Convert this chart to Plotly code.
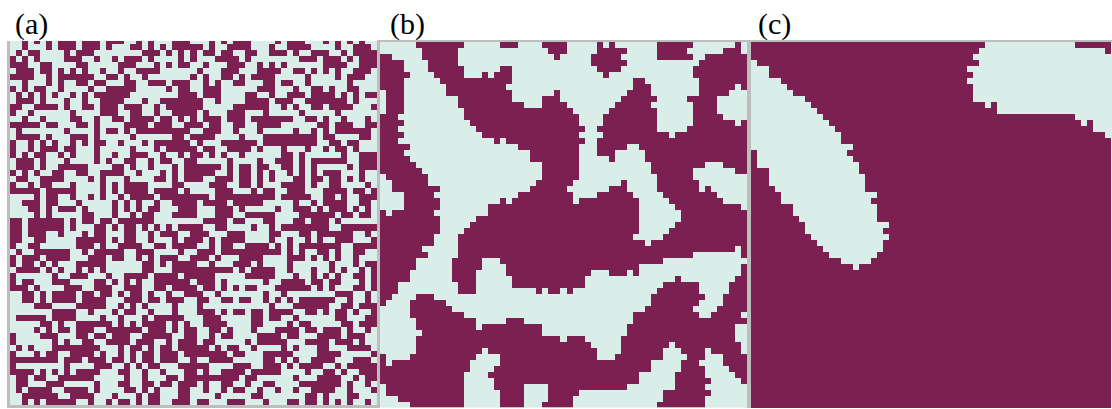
import plotly.graph_objects as go

W, H = 1112, 409
DARK = "#7C1F51"
LIGHT = "#DAEEE9"
GRAY = "#BDBDBD"
labels = ["(a)", "(b)", "(c)"]

# Panel (a): dark cells per row, left half, column numbers
a_left = [
"2 4 6 8-10 12-14 16-18 21 23 27-29",
"2 6 8-10 12-14 16 20-21 23 25 27-29",
"1 3-4 9 11-13 22-24 26 28 30",
"0 2 4 9-11 14 17 19-21 23 28 30",
"0-2 5-6 11-12 18-20 24 26 28-29",
"1-3 5-6 8 10 12 15 18 21-24",
"0-3 6 8-13 16-17 19 22 30",
"2 6 8 11-12 14-15 19-20 23-25 27-29",
"0 2 4-5 8 13 16-20 26 28-29",
"1 3 5 7 10 12 14-19 28-30",
"1-3 5 9 12 15-18 22 25-30",
"0-1 4-7 9 12-13 15-17 19-21 24 26-29",
"0 3 10 15-17 20-21 24 27-29",
"2 5 10-11 14 17-18 20-23 25-26 28 30",
"0-4 6-7 11-12 14 19-22 24-26 29-30",
"1 9 14 16-17 19 21-29",
"1-4 6 10-12 14 20 27-28",
"0 3 5 7 10 12 14-15 18 22 24-29",
"0 3 5-7 9-10 14 20 24 26-29",
"0 2 4-5 8 10 14 17 20-22 25 28 30",
"1-3 5 9 14 16 19-20 23 25-26 29-30",
"1-3 5 8-12 17-18 20 23 27 29-30",
"0 2 4 7-8 11-12 15-18 21 25 27 29-30",
"1-2 5-8 13 15 19 24-25 27 29",
"0 3 5-6 10 15 17 19-22 27-28",
"0-4 6-10 15 17 19-22 24-27 29",
"4 6-7 10 13 15 18 20-23 25-29",
"2-4 6-7 11 17 19 21 24 27-29",
"3-4 6 8-10 12 17 19 21 23-24 28-30",
"4 6 12-13 17 20 22-23 27-30",
"0-1 3-8 10 12-13 15-16 18-23",
"0-1 3-8 10 14-15 17 19-20 22 24 26 28-30",
"0-1 3-5 8 12 14-15 19-20 23 25-27 30",
"0-1 4-5 11-15 17 19-20 23 27 29-30",
"0 3-4 11-13 15 18-21 24-25 27-30",
"1 4-9 12 14-18 21-23 28",
"0 2-4 6-9 13-15 17-18 21 23 25-27 30",
"0 2-3 5 7 11-15 22-23 25 27-30",
"1-4 6 8 11 13 15 22-23 27-30",
"0 7 10-12 16 19-22 24-27 29-30",
"0 2-3 7-9 14-15 17 19 21 24-29",
"0-2 4 9-11 14-16 19-21 24-25 27-29",
"2-3 5 7-10 12-13 15-16 18 20-21 23 26 29-30",
"2-3 5 7-10 12-15 19-21 23-24 26-28",
"4-6 11-15 18 20 22 27",
"7-10 13 17 19-20 23 27",
"1-5 7-10 15 18 22 24-28",
"5-6 8 11-16 18 20 22-25 27 29",
"4 6 8-9 11-13 16-21 23-25 27 29-30",
"0 5-7 11-12 14-15 17-19 22-26 29-30",
"0 7 9 12-13 16-19 21-23 26 28-30",
"1 3 7-14 18 20-21 23 25-26 28-30",
"0 4 6-7 10-13 15 18 20 22-23 25-27 29-30",
"0-7 9-11 13-15 17-18 20 22-23 25-27 30",
"0 9 14-16 19 21 23-24 28-30",
"0-3 5 7 9 11-14 18-19 22 25 29-30",
"1-2 4-5 8-13 19 22 26-27 29",
"1-2 6-8 14 18-19 22-23 25-26 28-29",
"1 3-6 9-12 14 19-20 22 24 28-29",
"2 3-7 10-13 17 21 23-24 28-29",
"2 4 6-10 13 16 18-19 21 23-24 27-29",
]
# Panel (a): right half, column numbers counted from column 30
a_right = [
"3 5 7-9 14 16-18 22 24 26 28",
"0-1 3 6-9 13 16-19 24 27-29",
"0 2-3 5-6 9-10 13-15 17 20-22 25 27-30",
"0 4-7 9 18-20 22-24 26 28-30",
"2 6-8 11 13 15 22-25 28-30",
"1 5-7 11-14 17-18 20 22 24 27-29",
"0 2 5-6 8 10-13 19 24 26-28",
"2 4 7-8 12-13 15-16 19 26",
"2-4 11-13 17 20-21 23 26-27",
"0 2-4 9-10 13 16-18 20-23 25 27 29-30",
"1 4 9-12 14-16 19-25 27",
"0-1 7-12 15 17 20-21 23-26 30",
"0 2 6-8 12 18 24",
"0 2-4 6-8 10-16 19-20 22 25 29",
"1 3-4 7-8 11-14 21-22 24-26 29-30",
"2-4 7 11 17 20 22 24-29",
"0-3 8 12-20 22-23 28-29",
"1 5-10 12-20 23-24 26-27",
"0 2-3 6-9 11 15 19 22 24-25 27",
"0-1 3 5 8 15-16 18 25 28-30",
"6 11 14-16 18 20-25 28-30",
"0-4 6 8-9 11-12 15-16 18 20 26 28-30",
"0-3 6 8-9 11 13 16 18 20 22-24 28",
"0-1 4-6 8-9 11 13 17-18 20-21 23-24 26 28",
"3-5 8-9 11 15-18 20 23-24 29",
"4-6 10 12-13 16-18 22-25 27-28 30",
"0-2 4-11 12-13 15-19 22-23 25 28-30",
"0 2-5 7-11 17 20 22-25 28-29",
"0 4-6 8 14 17-19 21 23-25 27 29",
"4-6 9-13 18-23 25-26 28-29",
"2-5 7-8 12-13 17-18 20-22 24",
"0-1 4-5 10 13 15-22 25-30",
"1-2 6-8 13-14 18-19 21-26 29",
"1 3 5 6-8 13 16 19 21 24-26 30",
"0 3 5-6 9-12 14 16 18-24 27-30",
"1-3 5-14 16 18 21-22 24 27-28",
"0-2 4 8-11 16-18 20 22 24 27",
"3 7-9 11 16 23 27 29-30",
"1-6 8 10-13 16 20 23 25 28 30",
"1-3 9-13 17 20 22 24 27-28 30",
"1-3 5 12 15-18 20-21 23-24 28 30",
"0 2-3 5 7 9-10 14-19 21 23 27-28 30",
"0-1 4 12 15 24-26 29",
"1-2 5-6 8-9 12 14 16 18-23 26 29",
"1 13 17-22 25-26 28-30",
"1-3 5 7-8 10-11 13-16 19-20 22 24-25 27 30",
"2-4 10-11 13-14 17 24-25 29-30",
"2-5 10-11 16 18-19 25-26 28-30",
"3-4 6 10 14-17 19-20 22-24 26 29",
"3 5-6 11-14 16-17 21-24 26-28",
"2-3 9 11-15 19-22 24-26 28",
"0-2 4 6-7 10 15 17 21-22 26-29",
"0-5 7-8 12-16 21-24 30",
"0 3-6 12-13 15 17 20-23 27-29",
"0-2 7-9 12-14 16 18-21 24 26-30",
"2 5-8 10-14 19 22-23 25 28-30",
"0-7 9-10 17 21-24 27 29-30",
"0 2 5-6 9 12-13 18-24 26 29",
"2 5 7-8 11 14 17 20-23 26 30",
"4 10-11 19-20 22 26-27",
"1-2 6-8 12 16-17 19-20 22 24 26 29",
]
# Panel (b): dark runs [start, stop) per row
b_rows = [
[(6,14),(20,23),(27,31),(36,37),(38,39),(46,52),(59,60)],
[(7,13),(28,31),(36,41),(46,51),(57,60)],
[(0,2),(7,13),(29,30),(35,40),(46,52),(54,61)],
[(0,4),(8,13),(35,41),(53,61)],
[(0,4),(8,14),(20,22),(36,40),(52,61)],
[(0,5),(9,14),(17,18),(19,22),(37,38),(52,61)],
[(0,4),(10,22),(42,44),(53,61)],
[(0,4),(11,21),(42,45),(53,59),(60,61)],
[(1,4),(11,22),(29,30),(41,45),(53,58)],
[(1,4),(13,22),(27,30),(40,46),(51,56)],
[(1,4),(13,24),(27,31),(39,45),(52,56)],
[(1,4),(14,32),(38,46),(52,56)],
[(0,3),(14,33),(37,46),(52,57)],
[(0,4),(15,33),(37,46),(52,59),(60,61)],
[(0,3),(16,34),(36,46),(51,61)],
[(0,4),(17,33),(37,48),(49,61)],
[(0,3),(19,20),(21,34),(36,61)],
[(0,5),(23,33),(36,41),(43,61)],
[(0,4),(25,33),(36,39),(44,61)],
[(0,5),(25,33),(38,39),(44,61)],
[(0,6),(27,33),(45,54),(57,61)],
[(0,7),(27,33),(45,52),(59,61)],
[(1,8),(27,33),(46,52)],
[(2,8),(26,32),(40,41),(46,53)],
[(2,10),(25,31),(38,41),(46,53),(54,55)],
[(4,9),(23,32),(36,42),(47,56)],
[(4,10),(20,21),(22,32),(33,43),(48,57)],
[(4,10),(18,43),(49,60)],
[(0,1),(2,9),(18,43),(50,61)],
[(0,10),(16,43),(50,61)],
[(0,10),(15,43),(49,61)],
[(0,10),(14,43),(48,61)],
[(0,9),(13,42),(47,61)],
[(0,9),(13,44),(45,61)],
[(0,7),(13,59),(60,61)],
[(0,8),(13,52),(60,61)],
[(0,6),(12,17),(20,47)],
[(0,6),(12,17),(21,43),(60,61)],
[(0,5),(12,16),(21,35),(38,41),(42,43),(60,61)],
[(0,5),(12,16),(22,34),(49,50),(59,61)],
[(0,3),(13,16),(22,34),(47,53),(58,61)],
[(0,3),(13,16),(26,27),(28,30),(31,32),(46,53),(58,61)],
[(0,2),(6,9),(45,54),(57,61)],
[(0,1),(5,11),(45,53),(57,61)],
[(5,12),(44,52),(56,61)],
[(5,14),(42,53),(55,60)],
[(6,16),(21,24),(42,61)],
[(6,16),(17,27),(41,59)],
[(7,27),(41,59)],
[(6,30),(31,34),(40,59)],
[(6,35),(40,48),(49,60)],
[(6,17),(18,36),(40,47),(50,54),(55,60)],
[(0,1),(5,16),(20,36),(39,47),(51,54),(57,61)],
[(0,1),(2,15),(20,45),(50,53),(57,61)],
[(0,15),(19,45),(50,54),(58,61)],
[(0,14),(18,43),(49,54),(59,61)],
[(0,14),(19,43),(49,55),(60,61)],
[(1,14),(19,24),(28,41),(49,54)],
[(1,14),(20,24),(28,33),(47,55)],
[(3,14),(20,24),(28,32),(47,54)],
[(5,14),(20,24),(27,32),(46,54)],
]
# Panel (c): light runs [start, stop) per row
c_light = [
[(39,54)],[(38,59)],[(37,60)],[(0,1),(38,60)],[(0,3),(36,60)],[(0,3),(37,60)],
[(0,5),(36,60)],[(0,6),(37,60)],[(0,7),(37,60)],[(0,9),(37,60)],
[(0,10),(39,40),(41,60)],[(0,11),(41,60)],[(0,12),(54,60)],[(0,13),(55,56),(57,60)],
[(0,14),(57,60)],[(0,15),(59,60)],[(0,15)],[(0,17)],[(1,16)],[(1,17)],[(1,18)],
[(3,18)],[(3,19)],[(3,19)],[(4,19)],[(5,21)],[(5,20)],[(7,21)],[(7,21)],[(8,21)],
[(9,23)],[(9,22)],[(10,23)],[(11,22)],[(12,22)],[(13,21)],[(15,20)],[(17,18)],
[],[],[],[],[],[],[],[],[],[],[],[],[],[],[],[],[],[],[],[],[],[],[],
]


def parse(text, offset=0):
    out = []
    for tok in text.split():
        if "-" in tok:
            s, e = tok.split("-")
            out.extend(range(int(s) + offset, int(e) + 1 + offset))
        else:
            out.append(int(tok) + offset)
    return out


za = [[0] * 61 for _ in range(61)]
for r in range(61):
    for c in parse(a_left[r]) + parse(a_right[r], 30):
        if 0 <= c < 61:
            za[r][c] = 1
zb = [[0] * 61 for _ in range(61)]
for r, runs in enumerate(b_rows):
    for s, e in runs:
        for c in range(s, e):
            zb[r][c] = 1
zc = [[1] * 60 for _ in range(61)]
for r, runs in enumerate(c_light):
    for s, e in runs:
        for c in range(s, e):
            zc[r][c] = 0

scale = [[0, LIGHT], [1, DARK]]
fig = go.Figure()
for i, z in enumerate([za, zb, zc]):
    s = "" if i == 0 else str(i + 1)
    fig.add_trace(go.Heatmap(z=z, zmin=0, zmax=1, colorscale=scale, showscale=False,
                             hoverinfo="skip", xaxis="x" + s, yaxis="y" + s))


def dx(a, b):
    return [a / W, b / W]


def dy(top, bottom):
    return [1 - bottom / H, 1 - top / H]


base = dict(showgrid=False, zeroline=False, showticklabels=False, ticks="")
fig.update_layout(
    width=W, height=H, autosize=False,
    margin=dict(l=0, r=0, t=0, b=0),
    paper_bgcolor="white", plot_bgcolor=LIGHT, showlegend=False,
    xaxis=dict(base, domain=dx(10, 377), range=[-0.5, 60.5], anchor="y",
               showline=True, linecolor=GRAY, linewidth=3),
    yaxis=dict(base, domain=dy(41, 405), range=[60.5, 0.0], anchor="x",
               showline=True, linecolor=GRAY, linewidth=3),
    xaxis2=dict(base, domain=dx(380, 747), range=[-0.5, 60.5], anchor="y2",
                showline=True, linecolor=GRAY, linewidth=2, side="top"),
    yaxis2=dict(base, domain=dy(41.5, 407.5), range=[60.5, -0.5], anchor="x2",
                showline=True, linecolor=GRAY, linewidth=3, mirror=True),
    xaxis3=dict(base, domain=dx(751, 1112), range=[-0.5, 59.66], anchor="y3",
                showline=True, linecolor=GRAY, linewidth=2, side="top"),
    yaxis3=dict(base, domain=dy(42, 408), range=[60.5, -0.5], anchor="x3",
                showline=True, linecolor=GRAY, linewidth=3),
)
for text, x in zip(labels, [13, 388, 756]):
    fig.add_annotation(text=text, x=x / W, y=1 - 24.5 / H, xref="paper", yref="paper",
                       xanchor="left", yanchor="middle", showarrow=False,
                       font=dict(family="Liberation Serif", size=30, color="black"))

fig.write_html("out.html", config={"displayModeBar": False},
               post_script="document.body.style.margin='0';document.documentElement.style.overflow='hidden';")
